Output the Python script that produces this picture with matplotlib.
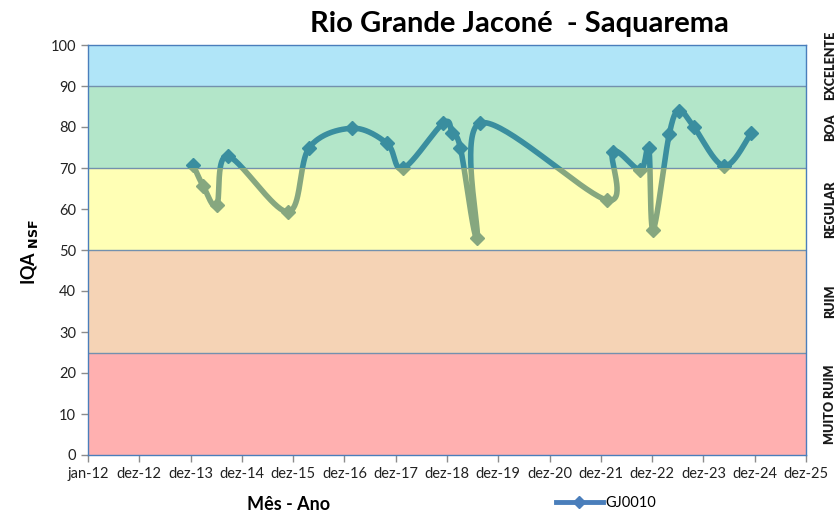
import numpy as np
import matplotlib
matplotlib.use("Agg")
import matplotlib.pyplot as plt
import matplotlib.dates as mdates
from matplotlib.patches import Rectangle
from matplotlib.lines import Line2D
import datetime as dt

plt.rcParams['font.family'] = ['Lato', 'DejaVu Sans']

title = "Rio Grande Jaconé  - Saquarema"
series_name = "GJ0010"
dates = ['2014-01-19', '2014-03-31', '2014-07-05', '2014-09-20', '2015-11-25',
         '2016-04-24', '2017-02-22', '2017-10-30', '2018-02-20', '2018-12-05',
         '2019-02-05', '2019-04-05', '2019-08-01', '2019-08-25', '2022-02-10',
         '2022-03-25', '2022-10-05', '2022-12-05', '2023-01-05', '2023-04-30',
         '2023-07-10', '2023-10-20', '2024-05-25', '2024-12-05']
values = [70.7, 65.6, 60.9, 72.9, 59.3, 75.0, 79.7, 76.0, 69.9, 81.0,
          78.5, 74.8, 52.9, 81.0, 62.2, 74.0, 69.5, 74.8, 55.0, 78.3,
          84.0, 80.1, 70.5, 78.6]
xtick_labels = ['jan-12', 'dez-12', 'dez-13', 'dez-14', 'dez-15', 'dez-16', 'dez-17',
                'dez-18', 'dez-19', 'dez-20', 'dez-21', 'dez-22', 'dez-23', 'dez-24', 'dez-25']
band_edges = [0, 25, 50, 70, 90, 100]
band_colors = ['#FFB0B0', '#F5D3B5', '#FFFFB5', '#B3E6C9', '#B0E5F8']
band_names = ['MUITO RUIM', 'RUIM', 'REGULAR', 'BOA', 'EXCELENTE']

fig = plt.figure(figsize=(8.38, 5.15), dpi=100)
ax = fig.add_axes([88/838, 1-455/515, (806-88)/838, (455-45)/515])

start = mdates.date2num(dt.datetime(2012, 1, 1))
end = start + 14*365
ticks = [start + 365*k for k in range(15)]

for lo, hi, c in zip(band_edges[:-1], band_edges[1:], band_colors):
    ax.add_patch(Rectangle((start, lo), end-start, hi-lo, facecolor=c,
                           edgecolor='none', zorder=0))
for e in band_edges[1:-1]:
    ax.axhline(e, color='#7391AE', lw=1.0, zorder=1)

x = np.array([mdates.date2num(dt.datetime.strptime(d, '%Y-%m-%d')) for d in dates])
y = np.array(values, dtype=float)

# smooth curve (Catmull-Rom style Bezier in display-proportional coordinates)
sx = 718.0/(end-start)
sy = 4.1
P = np.column_stack([(x-start)*sx, y*sy])
n = len(P)
curve = []
tt = np.linspace(0, 1, 40)
for i in range(n-1):
    p0 = P[max(i-1, 0)]; p1 = P[i]; p2 = P[i+1]; p3 = P[min(i+2, n-1)]
    c1 = p1 + (p2-p0)/6.0
    c2 = p2 - (p3-p1)/6.0
    seg = ((1-tt)**3)[:, None]*p1 + (3*(1-tt)**2*tt)[:, None]*c1 + \
          (3*(1-tt)*tt**2)[:, None]*c2 + (tt**3)[:, None]*p2
    curve.append(seg if i == 0 else seg[1:])
curve = np.vstack(curve)
cx = curve[:, 0]/sx + start
cy = curve[:, 1]/sy

upper = Rectangle((start, 70), end-start, 40, transform=ax.transData)
lower = Rectangle((start, -10), end-start, 80, transform=ax.transData)
for clip, col in [(upper, '#3A8E9F'), (lower, '#86A77F')]:
    l1, = ax.plot(cx, cy, color=col, lw=4.0, solid_capstyle='round', zorder=3)
    l2, = ax.plot(x, y, linestyle='none', marker='D', ms=7, color=col, zorder=4)
    l1.set_clip_path(clip)
    l2.set_clip_path(clip)

ax.set_xlim(start, end)
ax.set_ylim(0, 100)
ax.set_xticks(ticks)
ax.set_xticklabels(xtick_labels)
ax.set_yticks(range(0, 101, 10))
ax.tick_params(axis='both', labelsize=10.5, colors='#222222', length=5, width=1,
               direction='out')
ax.tick_params(axis='both', color='#8C8C8C')
for s in ax.spines.values():
    s.set_color('#4A7EBB')
    s.set_linewidth(1.0)

fig.text(519/838, 1-24/515, title, ha='center', va='center', fontsize=21,
         fontweight='bold', color='black')
fig.text(30/838, 1-252/515, r'IQA$_{\ \mathbf{NSF}}$', rotation=90, ha='center',
         va='center', fontsize=13, fontweight='bold')
fig.text(289/838, 1-504/515, 'Mês - Ano', ha='center', va='center', fontsize=13,
         fontweight='bold')

for lo, hi, name in zip(band_edges[:-1], band_edges[1:], band_names):
    ym = (lo+hi)/2.0
    ax.text(1.0 + 24/718, ym, name, transform=ax.get_yaxis_transform(),
            rotation=90, ha='center', va='center', fontsize=9, fontweight='heavy',
            color='#1A1A1A', clip_on=False)

handle = Line2D([], [], color='#4A7EBB', lw=3.5, marker='D', ms=6)
fig.legend([handle], [series_name], loc='center', bbox_to_anchor=(606/838, 1-503/515),
           frameon=False, fontsize=10.5, handlelength=3.2, handletextpad=0.2)

fig.savefig('out.png', dpi=100)
